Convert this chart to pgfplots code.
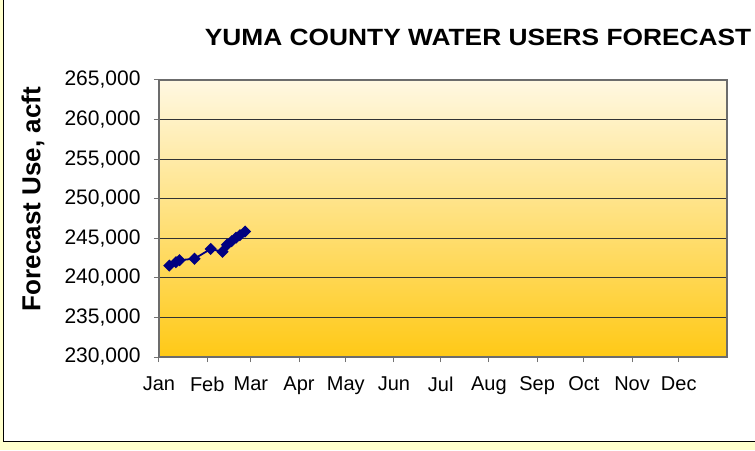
\documentclass[border=0pt]{standalone}
\usepackage{pgfplots}
\pgfplotsset{compat=1.18}
\usepackage{fontspec}
\setmainfont{Liberation Sans}
\definecolor{bgyel}{HTML}{FFFFCC}
\definecolor{ptop}{HTML}{FFF8E2}
\definecolor{pbot}{HTML}{FFC916}
\definecolor{navyline}{HTML}{000080}
\begin{document}
\begin{tikzpicture}[x=1pt,y=1pt]
\clip (0,0) rectangle (755,450);
\fill[bgyel] (0,0) rectangle (755,450);
\filldraw[fill=white,draw=black,line width=1pt] (3.5,8.5) rectangle (780,470);
\begin{axis}[
  at={(159pt,93pt)}, anchor=south west,
  scale only axis, width=568pt, height=277pt,
  xmin=0, xmax=365, ymin=230000, ymax=265000,
  xtick={0,31,59,90,120,151,181,212,243,273,304,334},
  xticklabels={Jan,Feb,Mar,Apr,May,Jun,Jul,Aug,Sep,Oct,Nov,Dec},
  ytick={230000,235000,240000,245000,250000,255000,260000,265000},
  scaled y ticks=false,
  yticklabel style={font=\fontsize{21}{24}\selectfont, text=black, xshift=-10pt,
    /pgf/number format/fixed, /pgf/number format/precision=0,
    /pgf/number format/1000 sep={,}, /pgf/number format/assume math mode=true},
  xticklabel style={font=\fontsize{20}{23}\selectfont, text=black, yshift=-11pt},
  tick align=outside, major tick length=5pt,
  xtick pos=bottom, ytick pos=left,
  tick style={draw=gray!90!black, line width=1pt},
  axis line style={draw=gray!85!black, line width=1.2pt},
  axis background/.style={shade, top color=ptop, bottom color=pbot},
  ymajorgrids, grid style={draw=black!80, line width=0.9pt},
  ylabel={Forecast Use, acft},
  ylabel style={font=\fontsize{26}{30}\selectfont\bfseries, at={(axis description cs:-0.222,0.57)}, anchor=center},
  title={YUMA COUNTY WATER USERS FORECAST},
  title style={font=\fontsize{23.5}{28}\selectfont\bfseries, at={(axis description cs:0.0739,1.104)}, anchor=base west, xscale=1.12},
]
\addplot[navyline, line width=1.8pt, mark=square*, mark size=3.4pt, mark options={fill=navyline, rotate=45}] coordinates {
(6.6,241550) (10.9,241980) (13.2,242230) (22.8,242420) (33.2,243650) (40.8,243300)
(43.7,244190) (46.7,244630) (49.5,245080) (52.0,245390) (55.3,245850)
};
\end{axis}
\end{tikzpicture}
\end{document}
